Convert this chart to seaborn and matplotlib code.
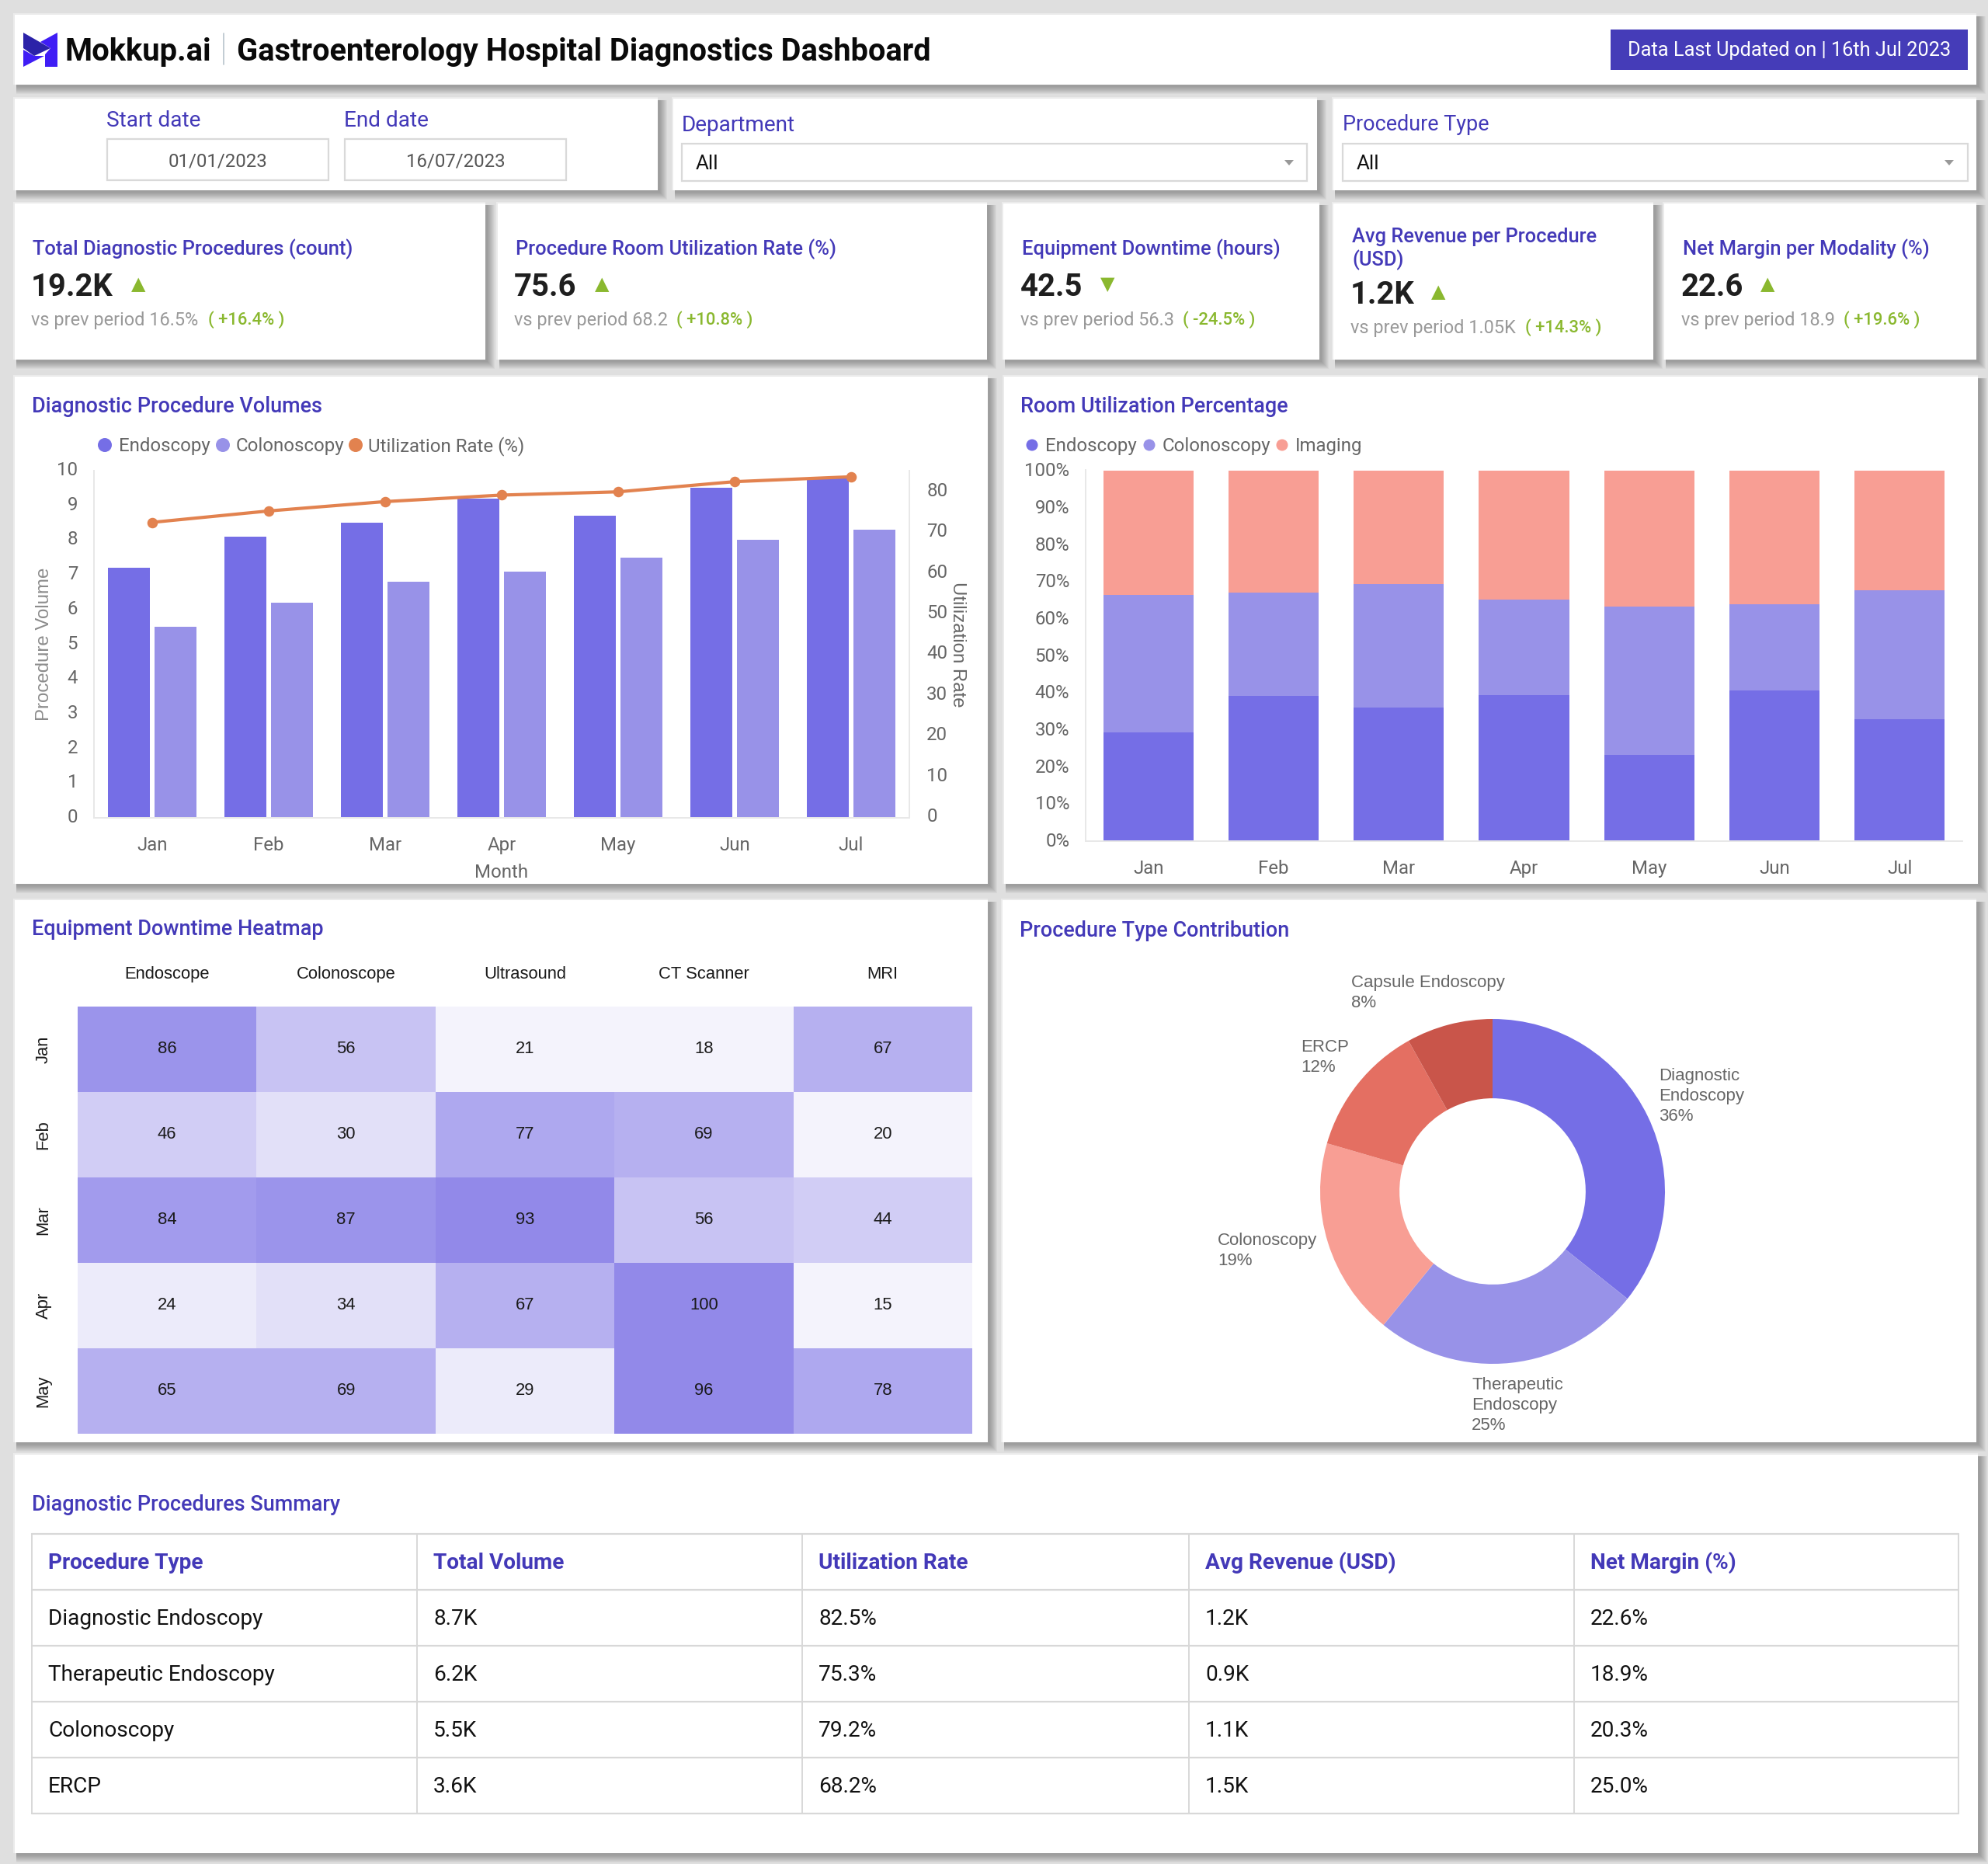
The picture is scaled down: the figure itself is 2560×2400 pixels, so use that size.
#!/usr/bin/python3

import numpy as np
import pandas as pd
import seaborn as sns
import matplotlib.pyplot as plt
from matplotlib.colors import ListedColormap, BoundaryNorm
from matplotlib.patches import Rectangle, Polygon, Circle
from matplotlib.transforms import ScaledTranslation

W, H = 2560, 2400

months = ["Jan", "Feb", "Mar", "Apr", "May", "Jun", "Jul"]
endoscopy_vol = [7.2, 8.1, 8.5, 9.2, 8.7, 9.5, 9.8]
colonoscopy_vol = [5.5, 6.2, 6.8, 7.1, 7.5, 8.0, 8.3]
util_rate = [72.6, 75.4, 77.7, 79.3, 80.1, 82.6, 83.8]

endoscopy_share = [29.3, 39.2, 36.0, 39.4, 23.3, 40.7, 32.9]
colonoscopy_share = [37.2, 27.9, 33.4, 25.8, 40.0, 23.4, 34.9]
imaging_share = [33.5, 32.9, 30.6, 34.8, 36.7, 35.9, 32.2]

equipment = ["Endoscope", "Colonoscope", "Ultrasound", "CT Scanner", "MRI"]
heat_months = ["Jan", "Feb", "Mar", "Apr", "May"]
downtime = [
    [86, 56, 21, 18, 67],
    [46, 30, 77, 69, 20],
    [84, 87, 93, 56, 44],
    [24, 34, 67, 100, 15],
    [65, 69, 29, 96, 78],
]
heat_bins = [0, 22, 29.5, 40, 50, 60, 72, 82, 85, 90, 101]
heat_colors = ["#f4f3fc", "#ecebfa", "#e2e0f8", "#d1cdf5", "#c8c3f3",
               "#b6b0f0", "#aea8ef", "#a29bed", "#9b94eb", "#9289e9"]

proc_shares = [35.7, 25.2, 18.6, 12.4, 8.1]
proc_colors = ["#756ee6", "#9892e8", "#f89e94", "#e46f62", "#c9554a"]

table_header = ["Procedure Type", "Total Volume", "Utilization Rate", "Avg Revenue (USD)", "Net Margin (%)"]
table_rows = [
    ["Diagnostic Endoscopy", "8.7K", "82.5%", "1.2K", "22.6%"],
    ["Therapeutic Endoscopy", "6.2K", "75.3%", "0.9K", "18.9%"],
    ["Colonoscopy", "5.5K", "79.2%", "1.1K", "20.3%"],
    ["ERCP", "3.6K", "68.2%", "1.5K", "25.0%"],
]

DARK = "#756ee6"
LIGHT = "#9892e8"
SALMON = "#f89e94"
ORANGE = "#e2824f"
BLUE = "#4339b8"
GRAY = "#666666"
GREEN = "#8ab82f"


def px(size):
    # pixel size to points at dpi 100
    return size * 0.72


def px_axes(fig, left, top, right, bottom, **kw):
    return fig.add_axes([left / W, 1 - bottom / H, (right - left) / W, (bottom - top) / H], **kw)


def card(bg, left, top, right, bottom):
    """White panel with the soft shadow on the right and bottom"""
    for i in range(10, 0, -1):
        bg.add_patch(Rectangle((left + 2, top + 2), right - left + i, bottom - top + i,
                               color="#4a4a4a", alpha=0.05, lw=0, zorder=1))
    bg.add_patch(Rectangle((left - 2, top - 2), right - left + 2, bottom - top + 2,
                           color="#ebebeb", lw=0, zorder=2))
    bg.add_patch(Rectangle((left, top), right - left, bottom - top, color="white", lw=0, zorder=3))


def label(bg, x, y, s, size=24, color=GRAY, weight="normal", ha="left", **kw):
    # y is the middle of the capitals, baseline kept so a line of text stays level
    bg.text(x, y - 1.5 + 0.36 * size, s, fontsize=px(size), color=color, fontweight=weight,
            ha=ha, va="baseline", zorder=5, **kw)


sns.set_theme(style="white")
plt.rcParams["font.family"] = ["Roboto", "DejaVu Sans"]
fig = plt.figure(figsize=(W / 100, H / 100), dpi=100, facecolor="#dfdfdf")

bg = fig.add_axes([0, 0, 1, 1], facecolor="#dfdfdf")
bg.set_xlim(0, W)
bg.set_ylim(H, 0)
bg.axis("off")

# panels
cards = [
    (19, 19, 2545, 109), (19, 127, 847, 245), (867, 127, 1696, 245), (1717, 127, 2545, 245),
    (19, 262, 625, 463), (641, 262, 1271, 463), (1292, 262, 1699, 463), (1717, 262, 2129, 463), (2143, 262, 2545, 463),
    (19, 485, 1272, 1138), (1293, 485, 2547, 1138),
    (19, 1159, 1272, 1857), (1291, 1159, 2545, 1857),
    (19, 1873, 2547, 2386),
]
for c in cards:
    card(bg, *c)

# header
bg.add_patch(Polygon([(74, 42), (52, 54), (65, 62), (58, 70), (58, 86), (74, 86)], color="#3f1df5", lw=0, zorder=4))
bg.add_patch(Polygon([(30, 64), (44, 72), (57, 72), (30, 86)], color="#3f1df5", lw=0, zorder=4))
bg.add_patch(Polygon([(30, 42), (65, 62), (44, 72), (30, 62)], color="#2b22a8", lw=0, zorder=4))
label(bg, 84, 65, "Mokkup.ai", 40, "#0a0a0a", "semibold")
bg.plot([288, 288], [43, 83], color="#b8c4cc", lw=1.2, zorder=5)
label(bg, 305, 65, "Gastroenterology Hospital Diagnostics Dashboard", 39.8, "#0a0a0a", "bold")
bg.add_patch(Rectangle((2074, 38), 460, 52, color="#453cb8", lw=0, zorder=4))
label(bg, 2304, 64, "Data Last Updated on | 16th Jul 2023", 25.4, "white", ha="center")

# filters
for lx, bx0, bx1, txt, val in [(137, 138, 423, "Start date", "01/01/2023"), (443, 444, 729, "End date", "16/07/2023")]:
    label(bg, lx, 154, txt, 28, BLUE)
    bg.add_patch(Rectangle((bx0, 179), bx1 - bx0, 53, fc="white", ec="#d9d9d9", lw=1.6, zorder=4))
    label(bg, (bx0 + bx1) / 2, 207, val, 24, "#555555", ha="center")
for lx, bx1, arrow, txt, tsize in [(878, 1683, 1660, "Department", 28), (1729, 2534, 2510, "Procedure Type", 27)]:
    label(bg, lx, 160, txt, tsize, BLUE)
    bg.add_patch(Rectangle((lx, 185), bx1 - lx, 48, fc="white", ec="#d9d9d9", lw=1.6, zorder=4))
    label(bg, lx + 18, 210, "All", 26, "#111111")
    bg.add_patch(Polygon([(arrow - 6, 206), (arrow + 6, 206), (arrow, 213)], color="#999999", lw=0, zorder=5))

# kpi cards
kpis = [
    (42, ["Total Diagnostic Procedures (count)"], "19.2K", 178, "▲", "vs prev period 16.5%", 268, "( +16.4% )"),
    (664, ["Procedure Room Utilization Rate (%)"], "75.6", 775, "▲", "vs prev period 68.2", 871, "( +10.8% )"),
    (1316, ["Equipment Downtime (hours)"], "42.5", 1426, "▼", "vs prev period 56.3", 1523, "( -24.5% )"),
    (1741, ["Avg Revenue per Procedure", "(USD)"], "1.2K", 1852, "▲", "vs prev period 1.05K", 1964, "( +14.3% )"),
    (2167, ["Net Margin per Modality (%)"], "22.6", 2276, "▲", "vs prev period 18.9", 2374, "( +19.6% )"),
]
for x, title_lines, value, tri_x, tri, sub, pct_x, pct in kpis:
    two = len(title_lines) == 2
    if two:
        label(bg, x, 304, title_lines[0], 25.5, BLUE, "medium")
        label(bg, x, 334, title_lines[1], 25.5, BLUE, "medium")
    else:
        label(bg, x, 320, title_lines[0], 25.5, BLUE, "medium")
    shift = 10 if two else 0
    label(bg, x - 2, 368 + shift, value, 40, "#1f1f1f", "bold")
    label(bg, tri_x, 366 + shift, tri, 24, GREEN, ha="center", family="DejaVu Sans")
    label(bg, x - 2, 412 + shift, sub, 23.5, "#999999")
    label(bg, pct_x, 412 + shift, pct, 22, GREEN, "medium")

# chart titles
label(bg, 41, 523, "Diagnostic Procedure Volumes", 27, BLUE, "medium")
label(bg, 1314, 523, "Room Utilization Percentage", 27, BLUE, "medium")
label(bg, 41, 1196, "Equipment Downtime Heatmap", 27, BLUE, "medium")
label(bg, 1313, 1198, "Procedure Type Contribution", 27, BLUE, "medium")
label(bg, 41, 1937, "Diagnostic Procedures Summary", 27, BLUE, "medium")

# legends
for dot_x, txt_x, col, txt, r in [(135, 153, DARK, "Endoscopy", 9), (287, 304, LIGHT, "Colonoscopy", 9), (458, 474, ORANGE, "Utilization Rate (%)", 9),
                                  (1329, 1346, DARK, "Endoscopy", 7.5), (1480, 1497, LIGHT, "Colonoscopy", 7.5), (1651, 1668, SALMON, "Imaging", 7.5)]:
    bg.add_patch(Circle((dot_x, 573), r, color=col, lw=0, zorder=5))
    label(bg, txt_x, 574, txt, 24, GRAY)


def style_axis(ax):
    for side in ax.spines:
        ax.spines[side].set_color("#e8e8e8")
        ax.spines[side].set_linewidth(1.4)
    ax.tick_params(length=0, labelsize=px(24), labelcolor=GRAY)
    ax.patch.set_alpha(0)


def lift_ticks(ax, pixels):
    # tick numbers sit a little above their value in the reference, do this after tick_params
    up = ScaledTranslation(0, pixels / 100, fig.dpi_scale_trans)
    for t in ax.get_yticklabels():
        t.set_transform(t.get_transform() + up)


# volumes with utilization line
vol_long = pd.DataFrame({
    "Month": months * 2,
    "Volume": endoscopy_vol + colonoscopy_vol,
    "Type": ["Endoscopy"] * 7 + ["Colonoscopy"] * 7,
})
ax1 = px_axes(fig, 121, 606, 1171, 1053)
sns.barplot(data=vol_long, x="Month", y="Volume", hue="Type", palette=[DARK, LIGHT], width=0.8, gap=0.1,
            saturation=1, legend=False, linewidth=0, ax=ax1)
ax1.set_ylim(0, 10)
ax1.set_xlim(-0.5, 6.5)
ax1.set_yticks(range(0, 11))
ax1.set_xlabel("Month", fontsize=px(24), color=GRAY, labelpad=9)
ax1.set_ylabel("Procedure Volume", fontsize=px(24), color="#8c8c8c", family="Liberation Sans", labelpad=4)
style_axis(ax1)
ax1.tick_params(axis="x", pad=17)
ax1.tick_params(axis="y", pad=15)
lift_ticks(ax1, 3)

ax1b = ax1.twinx()
sns.pointplot(x=months, y=util_rate, color=ORANGE, linewidth=3, markersize=7.5, ax=ax1b)
ax1b.set_ylim(0, 85.3)
ax1b.set_yticks(range(0, 90, 10))
ax1b.set_ylabel("Utilization Rate", fontsize=px(24), color=GRAY, family="Liberation Sans", rotation=270, labelpad=17)
style_axis(ax1b)
ax1b.tick_params(axis="y", pad=16)
lift_ticks(ax1b, 4)
ax1b.spines["top"].set_visible(False)
ax1.spines["top"].set_visible(False)

# stacked shares
ax2 = px_axes(fig, 1398, 605, 2527, 1083)
lower = np.array(endoscopy_share)
middle = lower + np.array(colonoscopy_share)
sns.barplot(x=months, y=endoscopy_share, color=DARK, saturation=1, width=0.72, linewidth=0, ax=ax2)
sns.barplot(x=months, y=colonoscopy_share, bottom=lower, color=LIGHT, saturation=1, width=0.72, linewidth=0, ax=ax2)
sns.barplot(x=months, y=imaging_share, bottom=middle, color=SALMON, saturation=1, width=0.72, linewidth=0, ax=ax2)
ax2.set_ylim(0, 100.3)
ax2.set_xlim(-0.5, 6.5)
ax2.set_yticks(range(0, 101, 10))
ax2.set_yticklabels([f"{v}%" for v in range(0, 101, 10)])
style_axis(ax2)
ax2.tick_params(axis="x", pad=17)
ax2.tick_params(axis="y", pad=15)
lift_ticks(ax2, 2)
ax2.spines["top"].set_visible(False)
ax2.spines["right"].set_visible(False)

# heatmap
ax3 = px_axes(fig, 100, 1296, 1252, 1846)
sns.heatmap(pd.DataFrame(downtime, index=heat_months, columns=equipment), annot=True, fmt="d", cbar=False,
            cmap=ListedColormap(heat_colors), norm=BoundaryNorm(heat_bins, len(heat_colors)),
            annot_kws={"fontsize": px(22), "color": "#1a1a1a", "family": "Liberation Sans"}, ax=ax3)
ax3.set_xlabel("")
ax3.set_ylabel("")
ax3.xaxis.tick_top()
ax3.tick_params(length=0, labelsize=px(22), labelcolor="#1a1a1a")
ax3.tick_params(axis="x", pad=22, rotation=0)
ax3.tick_params(axis="y", pad=24, rotation=90)
for t in ax3.get_xticklabels() + ax3.get_yticklabels():
    t.set_family("Liberation Sans")
for t in ax3.get_yticklabels():
    t.set_va("center")

# donut
ax4 = px_axes(fig, 1922 - 222, 1534 - 222, 1922 + 222, 1534 + 222)
ax4.pie(proc_shares, colors=proc_colors, startangle=90, counterclock=False, radius=1,
        wedgeprops={"width": 0.46, "linewidth": 0})
ax4.set_xlim(-1, 1)
ax4.set_ylim(-1, 1)
for x, y, lines in [(1740, 1264, ["Capsule Endoscopy", "8%"]), (1675, 1347, ["ERCP", "12%"]),
                    (2136, 1384, ["Diagnostic", "Endoscopy", "36%"]), (1568, 1596, ["Colonoscopy", "19%"]),
                    (1895, 1782, ["Therapeutic", "Endoscopy", "25%"])]:
    for i, line in enumerate(lines):
        label(bg, x, y + i * 26.3, line, 22.3, GRAY, family="Liberation Sans")

# summary table
col_x = [41, 537, 1033, 1531, 2027, 2522]
row_y = [1975, 2047, 2119, 2191, 2263, 2335]
for y in row_y:
    bg.plot([col_x[0], col_x[-1]], [y, y], color="#d8d8d8", lw=1.6, zorder=4)
for x in col_x:
    bg.plot([x, x], [row_y[0], row_y[-1]], color="#d8d8d8", lw=1.4, zorder=4)
for x, txt in zip(col_x, table_header):
    label(bg, x + 21, 2011, txt, 28, BLUE, "bold")
for i, row in enumerate(table_rows):
    for x, txt in zip(col_x, row):
        label(bg, x + 21, row_y[i + 1] + 36, txt, 28, "#111111")

fig.savefig("out.png", dpi=100, facecolor=fig.get_facecolor())
